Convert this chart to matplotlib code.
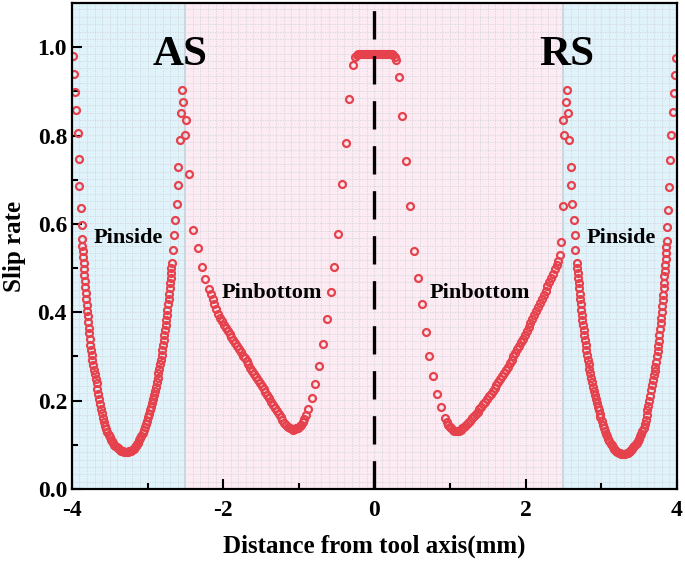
import numpy as np
import matplotlib.pyplot as plt

plt.rcParams['font.family'] = ['Liberation Serif', 'DejaVu Serif']
plt.rcParams['font.weight'] = 'bold'
plt.rcParams['axes.unicode_minus'] = False

# Advancing side, pin side (AS)
x_as_side = [-3.984, -3.971, -3.958, -3.944, -3.926, -3.913, -3.900, -3.886, -3.873,
             -3.865, -3.861, -3.856, -3.851, -3.846, -3.841, -3.836, -3.831, -3.825, -3.819,
             -3.813, -3.807, -3.800, -3.793, -3.786, -3.779, -3.771, -3.763, -3.755, -3.746,
             -3.737, -3.728, -3.718, -3.708, -3.697, -3.686, -3.674, -3.662, -3.650, -3.637,
             -3.625, -3.612, -3.600, -3.587, -3.574, -3.560, -3.545, -3.530, -3.515, -3.500,
             -3.485, -3.470, -3.455, -3.440, -3.425, -3.410, -3.395, -3.380, -3.365, -3.350,
             -3.335, -3.320, -3.305, -3.290, -3.275, -3.260, -3.245, -3.230, -3.215, -3.200,
             -3.185, -3.170, -3.155, -3.140, -3.125, -3.110, -3.095, -3.080, -3.065, -3.050,
             -3.035, -3.020, -3.005, -2.990, -2.978, -2.965, -2.952, -2.940, -2.928, -2.915,
             -2.902, -2.890, -2.878, -2.865, -2.855, -2.845, -2.835, -2.825, -2.815, -2.805,
             -2.796, -2.787, -2.778, -2.770, -2.761, -2.753, -2.745, -2.737, -2.729, -2.722,
             -2.715, -2.708, -2.701, -2.695, -2.689, -2.684,
             -2.674, -2.660, -2.652, -2.638, -2.616, -2.603, -2.595, -2.573, -2.507, -2.497,
             -2.560, -2.529, -2.542]
y_as_side = [0.980, 0.940, 0.899, 0.857, 0.805, 0.747, 0.686, 0.635, 0.597,
             0.565, 0.551, 0.538, 0.524, 0.511, 0.497, 0.484, 0.470, 0.457, 0.443,
             0.430, 0.417, 0.404, 0.391, 0.378, 0.365, 0.352, 0.339, 0.327, 0.315,
             0.303, 0.291, 0.280, 0.270, 0.260, 0.250, 0.240, 0.227, 0.215, 0.204,
             0.193, 0.182, 0.172, 0.161, 0.151, 0.142, 0.135, 0.128, 0.122, 0.117,
             0.112, 0.108, 0.104, 0.100, 0.097, 0.094, 0.092, 0.090, 0.088, 0.087,
             0.086, 0.085, 0.084, 0.084, 0.084, 0.084, 0.085, 0.086, 0.087, 0.089,
             0.091, 0.094, 0.097, 0.101, 0.105, 0.110, 0.115, 0.121, 0.127, 0.133,
             0.140, 0.147, 0.154, 0.162, 0.170, 0.178, 0.186, 0.195, 0.204, 0.213,
             0.222, 0.232, 0.242, 0.252, 0.262, 0.272, 0.282, 0.293, 0.304, 0.315,
             0.326, 0.337, 0.348, 0.360, 0.371, 0.383, 0.394, 0.406, 0.418, 0.430,
             0.442, 0.454, 0.466, 0.478, 0.489, 0.500,
             0.512, 0.541, 0.575, 0.609, 0.646, 0.688, 0.729, 0.790, 0.801, 0.835,
             0.850, 0.876, 0.903]

# AS pin bottom
x_as_bottom = [-2.450, -2.397, -2.339, -2.286, -2.242, -2.185, -2.162, -2.140, -2.115, -2.090,
               -2.065, -2.040, -2.015, -1.990, -1.965, -1.940, -1.915, -1.890, -1.865, -1.840,
               -1.815, -1.790, -1.765, -1.740, -1.715, -1.690, -1.665, -1.640, -1.615, -1.590,
               -1.565, -1.540, -1.515, -1.490, -1.465, -1.440, -1.415, -1.390, -1.365, -1.340,
               -1.315, -1.290, -1.265, -1.240, -1.215, -1.190, -1.165, -1.140, -1.117, -1.095,
               -1.072, -1.050, -1.030, -1.010, -0.990, -0.970, -0.950, -0.930, -0.903]
y_as_bottom = [0.713, 0.586, 0.545, 0.503, 0.475, 0.452, 0.441, 0.430, 0.418, 0.407,
               0.397, 0.388, 0.380, 0.372, 0.364, 0.357, 0.350, 0.343, 0.337, 0.330,
               0.323, 0.316, 0.309, 0.302, 0.296, 0.289, 0.282, 0.275, 0.268, 0.261,
               0.254, 0.247, 0.240, 0.233, 0.226, 0.219, 0.212, 0.205, 0.197, 0.190,
               0.183, 0.176, 0.169, 0.162, 0.156, 0.150, 0.145, 0.140, 0.137, 0.135,
               0.134, 0.135, 0.137, 0.139, 0.142, 0.146, 0.151, 0.158, 0.168]

# centre (under the tool axis)
x_center = [-0.876, -0.823, -0.783, -0.734, -0.685, -0.632, -0.579, -0.532, -0.479, -0.434,
            -0.381, -0.333, -0.280, -0.250, -0.230, -0.210, -0.190, -0.170, -0.150, -0.130,
            -0.110, -0.090, -0.070, -0.050, -0.030, -0.010, 0.010, 0.030, 0.050, 0.070,
            0.090, 0.110, 0.130, 0.150, 0.170, 0.190, 0.210, 0.230, 0.250, 0.270,
            0.284, 0.324, 0.368, 0.417, 0.470, 0.522, 0.580, 0.624, 0.677, 0.725,
            0.770, 0.823, 0.876, 0.933]
y_center = [0.182, 0.205, 0.238, 0.278, 0.328, 0.384, 0.446, 0.503, 0.578, 0.690,
            0.782, 0.882, 0.959, 0.978, 0.982, 0.984, 0.984, 0.984, 0.984, 0.984,
            0.984, 0.984, 0.984, 0.984, 0.984, 0.984, 0.984, 0.984, 0.984, 0.984,
            0.984, 0.984, 0.984, 0.984, 0.984, 0.984, 0.984, 0.984, 0.982, 0.978,
            0.971, 0.933, 0.845, 0.743, 0.641, 0.539, 0.477, 0.419, 0.356, 0.302,
            0.256, 0.216, 0.186, 0.160]

# Retreating side pin bottom
x_rs_bottom = [0.955, 0.980, 1.000, 1.020, 1.040, 1.060, 1.080, 1.100, 1.120, 1.140,
               1.165, 1.190, 1.215, 1.240, 1.265, 1.290, 1.315, 1.340, 1.365, 1.390,
               1.415, 1.440, 1.465, 1.490, 1.515, 1.540, 1.565, 1.590, 1.615, 1.640,
               1.665, 1.690, 1.715, 1.740, 1.765, 1.790, 1.815, 1.840, 1.865, 1.890,
               1.915, 1.940, 1.965, 1.990, 2.015, 2.040, 2.065, 2.090, 2.115, 2.140,
               2.165, 2.190, 2.215, 2.240, 2.265, 2.290, 2.315, 2.340, 2.365, 2.390,
               2.410, 2.430, 2.450, 2.465, 2.490]
y_rs_bottom = [0.152, 0.145, 0.141, 0.137, 0.134, 0.132, 0.131, 0.131, 0.132, 0.134,
               0.137, 0.141, 0.145, 0.150, 0.155, 0.160, 0.165, 0.170, 0.175, 0.181,
               0.186, 0.192, 0.198, 0.204, 0.210, 0.216, 0.222, 0.229, 0.235, 0.242,
               0.249, 0.256, 0.263, 0.270, 0.277, 0.285, 0.292, 0.300, 0.308, 0.316,
               0.324, 0.332, 0.340, 0.349, 0.357, 0.366, 0.375, 0.384, 0.393, 0.402,
               0.411, 0.421, 0.430, 0.440, 0.449, 0.459, 0.468, 0.478, 0.487, 0.497,
               0.506, 0.515, 0.530, 0.560, 0.640]

# RS pin side
x_rs_side = [2.542, 2.529, 2.560, 2.497, 2.507, 2.573, 2.595, 2.603, 2.616, 2.638,
             2.652, 2.660, 2.674,
             2.684, 2.689, 2.695, 2.701, 2.708, 2.715, 2.722, 2.729, 2.737, 2.745,
             2.753, 2.761, 2.770, 2.778, 2.787, 2.796, 2.805, 2.815, 2.825, 2.835,
             2.845, 2.855, 2.865, 2.878, 2.890, 2.902, 2.915, 2.928, 2.940, 2.952,
             2.965, 2.978, 2.990, 3.005, 3.020, 3.035, 3.050, 3.065, 3.080, 3.095,
             3.110, 3.125, 3.140, 3.155, 3.170, 3.185, 3.200, 3.215, 3.230, 3.245,
             3.260, 3.275, 3.290, 3.305, 3.320, 3.335, 3.350, 3.365, 3.380, 3.395,
             3.410, 3.425, 3.440, 3.455, 3.470, 3.485, 3.500, 3.515, 3.530, 3.545,
             3.560, 3.574, 3.587, 3.600, 3.612, 3.625, 3.637, 3.650, 3.662, 3.674,
             3.686, 3.697, 3.708, 3.718, 3.728, 3.737, 3.746, 3.755, 3.763, 3.771,
             3.779, 3.786, 3.793, 3.800, 3.807, 3.813, 3.819, 3.825, 3.831, 3.836,
             3.841, 3.846, 3.851, 3.856, 3.861, 3.865,
             3.873, 3.886, 3.900, 3.913, 3.926, 3.944, 3.958, 3.971, 3.984]
y_rs_side = [0.903, 0.876, 0.850, 0.835, 0.801, 0.790, 0.729, 0.688, 0.646, 0.609,
             0.575, 0.541, 0.512,
             0.500, 0.489, 0.478, 0.466, 0.454, 0.442, 0.430, 0.418, 0.406, 0.394,
             0.383, 0.371, 0.360, 0.348, 0.337, 0.326, 0.315, 0.304, 0.293, 0.282,
             0.272, 0.262, 0.252, 0.242, 0.232, 0.222, 0.213, 0.204, 0.195, 0.186,
             0.178, 0.170, 0.162, 0.154, 0.146, 0.139, 0.132, 0.125, 0.119, 0.113,
             0.108, 0.103, 0.099, 0.095, 0.091, 0.088, 0.086, 0.084, 0.082, 0.081,
             0.080, 0.079, 0.079, 0.079, 0.080, 0.081, 0.082, 0.084, 0.086, 0.088,
             0.091, 0.094, 0.097, 0.101, 0.105, 0.109, 0.114, 0.119, 0.125, 0.132,
             0.139, 0.147, 0.156, 0.168, 0.178, 0.189, 0.200, 0.211, 0.223, 0.236,
             0.247, 0.258, 0.267, 0.277, 0.288, 0.300, 0.312, 0.324, 0.336, 0.349,
             0.362, 0.375, 0.388, 0.401, 0.414, 0.427, 0.440, 0.454, 0.467, 0.481,
             0.494, 0.508, 0.521, 0.535, 0.548, 0.562,
             0.594, 0.632, 0.683, 0.744, 0.802, 0.854, 0.896, 0.937, 0.976]

fig = plt.figure(figsize=(6.85, 5.61), dpi=100)
ax = fig.add_axes([0.105, 0.1283, 0.883, 0.8664])

# shaded zones
ax.axvspan(-4, -2.5, color='#e0f3fb', zorder=0)
ax.axvspan(2.5, 4, color='#e0f3fb', zorder=0)
ax.axvspan(-2.5, 2.5, color='#fdebf3', zorder=0)
ax.axvline(-2.5, color='#c3d3da', lw=1.2, zorder=0.5)
ax.axvline(2.5, color='#c3d3da', lw=1.2, zorder=0.5)

# fine background grid
for gx in np.arange(-4, 4.01, 0.1):
    ax.axvline(gx, color='#d2d5db', lw=0.6, ls=(0, (1.5, 1.5)), zorder=0.6)
for gy in np.arange(0, 1.11, 0.0167):
    ax.axhline(gy, color='#d2d5db', lw=0.6, ls=(0, (1.5, 1.5)), zorder=0.6)

mk = dict(ls='none', marker='o', ms=5, mfc='none', mec='#e6424d', mew=1.6, zorder=3)
ax.plot(x_as_side, y_as_side, **mk)
ax.plot(x_as_bottom, y_as_bottom, **mk)
ax.plot(x_center, y_center, **mk)
ax.plot(x_rs_bottom, y_rs_bottom, **mk)
ax.plot(x_rs_side, y_rs_side, **mk)

ax.axvline(0, color='k', lw=2.4, dashes=(8.5, 5), zorder=4)

ax.text(-2.57, 0.982, 'AS', fontsize=31, fontweight='bold', ha='center', va='center')
ax.text(2.55, 0.982, 'RS', fontsize=31, fontweight='bold', ha='center', va='center')
ax.text(-3.26, 0.568, 'Pinside', fontsize=16, fontweight='bold', ha='center', va='center')
ax.text(3.27, 0.568, 'Pinside', fontsize=16, fontweight='bold', ha='center', va='center')
ax.text(-1.356, 0.444, 'Pinbottom', fontsize=16, fontweight='bold', ha='center', va='center')
ax.text(1.395, 0.444, 'Pinbottom', fontsize=16, fontweight='bold', ha='center', va='center')

ax.set_xlim(-4, 4)
ax.set_ylim(0, 1.1)
ax.set_xticks([-4, -2, 0, 2, 4])
ax.set_xticks([-3, -1, 1, 3], minor=True)
ax.set_yticks([0.0, 0.2, 0.4, 0.6, 0.8, 1.0])
ax.set_yticks([0.1, 0.3, 0.5, 0.7, 0.9], minor=True)
ax.set_yticklabels(['0.0', '0.2', '0.4', '0.6', '0.8', '1.0'])
ax.tick_params(which='both', direction='in', width=1.5, labelsize=17)
ax.tick_params(which='major', length=7)
ax.tick_params(which='minor', length=4)
ax.tick_params(axis='x', pad=8)
for s in ax.spines.values():
    s.set_linewidth(1.6)
    s.set_zorder(5)

ax.set_xlabel('Distance from tool axis(mm)', fontsize=18, fontweight='bold', labelpad=10)
ax.set_ylabel('Slip rate', fontsize=18, fontweight='bold', labelpad=8)

fig.savefig('out.png', dpi=100)
